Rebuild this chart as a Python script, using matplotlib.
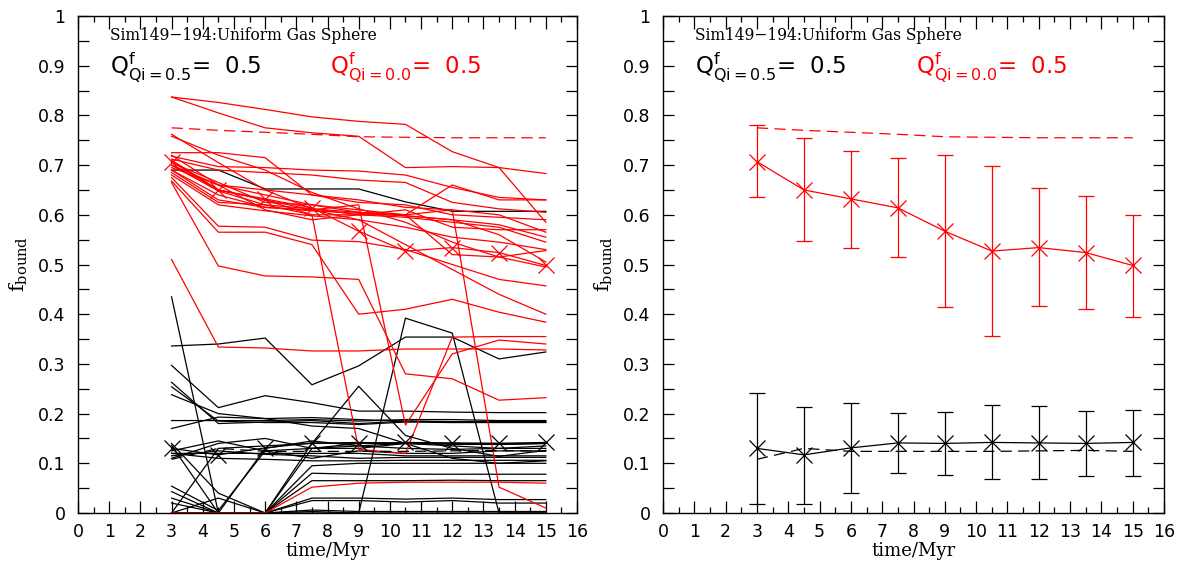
import numpy as np
import matplotlib
matplotlib.use("Agg")
import matplotlib.pyplot as plt
from matplotlib.ticker import MultipleLocator

plt.rcParams['mathtext.fontset'] = 'dejavusans'

times = [3, 4.5, 6, 7.5, 9, 10.5, 12, 13.5, 15]

# individual runs, Qi=0.0 (red)
red_runs = [
    [0.837, 0.826, 0.812, 0.797, 0.788, 0.782, 0.727, 0.695, 0.585],
    [0.837, 0.805, 0.775, 0.765, 0.758, 0.695, 0.697, 0.695, 0.683],
    [0.762, 0.705, 0.650, 0.612, 0.605, 0.598, 0.590, 0.560, 0.505],
    [0.758, 0.720, 0.690, 0.645, 0.612, 0.585, 0.545, 0.515, 0.495],
    [0.725, 0.725, 0.715, 0.640, 0.625, 0.620, 0.600, 0.595, 0.590],
    [0.718, 0.697, 0.695, 0.690, 0.688, 0.680, 0.655, 0.635, 0.630],
    [0.712, 0.690, 0.685, 0.680, 0.670, 0.665, 0.625, 0.612, 0.605],
    [0.705, 0.665, 0.625, 0.620, 0.610, 0.600, 0.520, 0.515, 0.528],
    [0.700, 0.648, 0.620, 0.600, 0.600, 0.600, 0.660, 0.630, 0.630],
    [0.695, 0.660, 0.650, 0.640, 0.630, 0.615, 0.610, 0.600, 0.565],
    [0.690, 0.630, 0.615, 0.608, 0.603, 0.598, 0.590, 0.580, 0.555],
    [0.685, 0.625, 0.620, 0.612, 0.600, 0.595, 0.585, 0.575, 0.545],
    [0.680, 0.620, 0.608, 0.598, 0.590, 0.575, 0.555, 0.545, 0.530],
    [0.675, 0.577, 0.575, 0.549, 0.546, 0.530, 0.500, 0.470, 0.457],
    [0.668, 0.565, 0.565, 0.540, 0.400, 0.410, 0.430, 0.404, 0.384],
    [0.665, 0.497, 0.477, 0.475, 0.470, 0.280, 0.270, 0.227, 0.232],
    [0.700, 0.650, 0.630, 0.600, 0.128, 0.120, 0.354, 0.355, 0.355],
    [0.690, 0.640, 0.615, 0.610, 0.620, 0.177, 0.320, 0.348, 0.340],
    [0.700, 0.660, 0.640, 0.620, 0.605, 0.600, 0.610, 0.052, 0.010],
    [0.510, 0.334, 0.332, 0.326, 0.326, 0.330, 0.330, 0.330, 0.328],
    [0.000, 0.000, 0.000, 0.052, 0.060, 0.062, 0.062, 0.062, 0.060],
    [0.720, 0.660, 0.610, 0.590, 0.600, 0.610, 0.575, 0.570, 0.570],
    [0.710, 0.650, 0.630, 0.610, 0.590, 0.540, 0.490, 0.440, 0.400],
]

# individual runs, Qi=0.5 (black)
black_runs = [
    [0.690, 0.690, 0.652, 0.652, 0.652, 0.626, 0.607, 0.607, 0.607],
    [0.435, 0.000, 0.000, 0.000, 0.000, 0.000, 0.000, 0.000, 0.000],
    [0.336, 0.340, 0.352, 0.258, 0.296, 0.354, 0.354, 0.310, 0.324],
    [0.000, 0.000, 0.000, 0.003, 0.000, 0.392, 0.362, 0.000, 0.000],
    [0.297, 0.212, 0.236, 0.222, 0.205, 0.205, 0.203, 0.202, 0.202],
    [0.263, 0.180, 0.183, 0.186, 0.180, 0.185, 0.183, 0.184, 0.184],
    [0.254, 0.185, 0.182, 0.182, 0.178, 0.183, 0.182, 0.182, 0.182],
    [0.000, 0.030, 0.000, 0.140, 0.255, 0.156, 0.130, 0.114, 0.126],
    [0.186, 0.186, 0.186, 0.188, 0.185, 0.188, 0.188, 0.186, 0.186],
    [0.170, 0.193, 0.190, 0.192, 0.188, 0.185, 0.184, 0.184, 0.183],
    [0.136, 0.000, 0.130, 0.145, 0.135, 0.140, 0.140, 0.138, 0.140],
    [0.000, 0.130, 0.135, 0.140, 0.142, 0.140, 0.138, 0.138, 0.140],
    [0.125, 0.145, 0.125, 0.110, 0.125, 0.120, 0.120, 0.125, 0.125],
    [0.120, 0.120, 0.120, 0.120, 0.120, 0.115, 0.115, 0.115, 0.115],
    [0.115, 0.125, 0.118, 0.115, 0.110, 0.112, 0.112, 0.112, 0.112],
    [0.054, 0.005, 0.125, 0.130, 0.135, 0.130, 0.128, 0.130, 0.130],
    [0.043, 0.000, 0.000, 0.095, 0.100, 0.100, 0.100, 0.100, 0.100],
    [0.000, 0.000, 0.000, 0.080, 0.078, 0.078, 0.078, 0.078, 0.078],
    [0.030, 0.000, 0.000, 0.030, 0.030, 0.028, 0.030, 0.027, 0.027],
    [0.020, 0.000, 0.000, 0.025, 0.025, 0.022, 0.025, 0.020, 0.020],
    [0.000, 0.000, 0.000, 0.006, 0.003, 0.003, 0.003, 0.003, 0.003],
    [0.110, 0.140, 0.150, 0.130, 0.130, 0.140, 0.135, 0.130, 0.135],
    [0.140, 0.040, 0.000, 0.130, 0.140, 0.140, 0.140, 0.140, 0.140],
    [0.238, 0.200, 0.190, 0.175, 0.170, 0.140, 0.110, 0.100, 0.105],
    [0.000, 0.000, 0.000, 0.065, 0.065, 0.065, 0.066, 0.065, 0.065],
    [0.120, 0.110, 0.108, 0.105, 0.105, 0.106, 0.106, 0.106, 0.106],
]

red_mean = [0.707, 0.650, 0.632, 0.614, 0.567, 0.527, 0.534, 0.524, 0.498]
red_lo = [0.636, 0.547, 0.534, 0.515, 0.415, 0.357, 0.416, 0.410, 0.395]
red_hi = [0.780, 0.755, 0.729, 0.714, 0.720, 0.698, 0.653, 0.638, 0.600]
red_dash = [0.775, 0.770, 0.766, 0.762, 0.757, 0.756, 0.755, 0.755, 0.755]

black_mean = [0.130, 0.117, 0.131, 0.141, 0.140, 0.142, 0.141, 0.140, 0.142]
black_lo = [0.018, 0.018, 0.040, 0.080, 0.077, 0.068, 0.069, 0.074, 0.074]
black_hi = [0.241, 0.213, 0.221, 0.201, 0.203, 0.217, 0.215, 0.206, 0.208]
black_dash = [0.108, 0.130, 0.124, 0.124, 0.124, 0.124, 0.125, 0.126, 0.124]

W, H = 1181, 569
fig = plt.figure(figsize=(W / 100, H / 100), dpi=100)
ax1 = fig.add_axes([78 / W, 1 - 513 / H, 499 / W, 497 / H])
ax2 = fig.add_axes([663 / W, 1 - 513 / H, 501 / W, 497 / H])

lw = 0.9
serif = 'DejaVu Serif'


def style(ax):
    ax.set_xlim(0, 16)
    ax.set_ylim(0, 1)
    ax.xaxis.set_major_locator(MultipleLocator(1))
    ax.xaxis.set_minor_locator(MultipleLocator(0.5))
    ax.yaxis.set_minor_locator(MultipleLocator(0.05))
    ax.tick_params(which='both', direction='in', top=True, right=True, width=0.9)
    ax.tick_params(axis='x', which='major', length=9, pad=7, labelsize=12.5)
    ax.tick_params(axis='x', which='minor', length=4.5)
    ax.tick_params(axis='y', which='major', length=8, pad=9, labelsize=12.5)
    ax.tick_params(axis='y', which='minor', length=8)
    ax.set_yticks(np.arange(0, 1.01, 0.1))
    ax.set_yticklabels(['0'] + ['%.1f' % v for v in np.arange(0.1, 0.95, 0.1)] + ['1'])
    for s in ax.spines.values():
        s.set_linewidth(1.0)
    ax.set_xlabel('time/Myr', family=serif, fontsize=13, labelpad=1)
    ax.set_ylabel(r'f$_{\mathregular{bound}}$', family=serif, fontsize=15, labelpad=6)
    ax.text(0.064, 0.96, 'Sim149\u2212194:Uniform Gas Sphere', transform=ax.transAxes,
            family=serif, fontsize=11.2, va='center')
    ax.text(0.064, 0.882, r'$\mathregular{Q^{f}_{Qi=0.5}}$=  0.5', transform=ax.transAxes,
            fontsize=16.5, va='baseline', color='black')
    ax.text(0.505, 0.882, r'$\mathregular{Q^{f}_{Qi=0.0}}$=  0.5', transform=ax.transAxes,
            fontsize=16.5, va='baseline', color='red')


# left: every run plus averages
for run in black_runs:
    ax1.plot(times, run, color='black', lw=lw)
for run in red_runs:
    ax1.plot(times, run, color='red', lw=lw)
ax1.plot(times, red_dash, color='red', lw=lw, dashes=(9, 5))
ax1.plot(times, black_dash, color='black', lw=lw, dashes=(9, 5))
ax1.plot(times, red_mean, color='red', lw=lw, marker='x', ms=11, mew=0.9)
ax1.plot(times, black_mean, color='black', lw=lw, marker='x', ms=11, mew=0.9)
style(ax1)

# right: averages with spread
for mean, lo, hi, dash, c in [(red_mean, red_lo, red_hi, red_dash, 'red'),
                              (black_mean, black_lo, black_hi, black_dash, 'black')]:
    m = np.array(mean)
    err = [m - np.array(lo), np.array(hi) - m]
    ax2.errorbar(times, m, yerr=err, color=c, lw=lw, marker='x', ms=11, mew=0.9,
                 capsize=5.5, capthick=0.9, elinewidth=lw)
    ax2.plot(times, dash, color=c, lw=lw, dashes=(9, 5))
style(ax2)

fig.savefig('out.png', dpi=100)
